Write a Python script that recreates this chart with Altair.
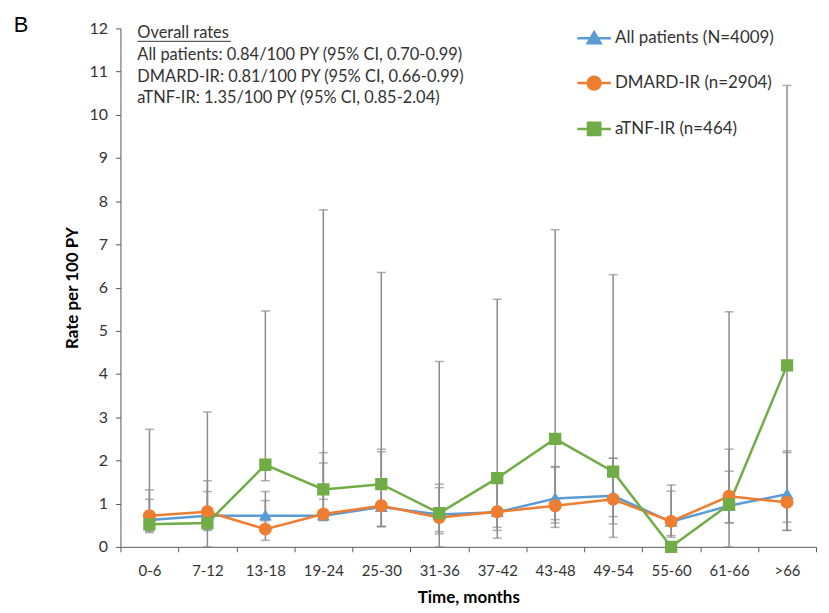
import altair as alt
import pandas as pd

categories = ["0-6", "7-12", "13-18", "19-24", "25-30", "31-36",
              "37-42", "43-48", "49-54", "55-60", "61-66", ">66"]
series_names = ["All patients (N=4009)", "DMARD-IR (n=2904)", "aTNF-IR (n=464)"]
series_colors = ["#5B9BD5", "#ED7D31", "#70AD47"]

# All patients
all_rate = [0.62, 0.72, 0.72, 0.72, 0.92, 0.75, 0.80, 1.12, 1.18, 0.58, 0.95, 1.22]
all_lo   = [0.38, 0.40, 0.60, 0.61, 0.47, 0.35, 0.45, 0.55, 0.70, 0.22, 0.56, 0.57]
all_hi   = [1.10, 1.28, 1.07, 1.94, 2.20, 1.37, 1.59, 1.86, 2.05, 1.29, 1.75, 2.18]
# DMARD-IR
dmard_rate = [0.72, 0.81, 0.41, 0.76, 0.95, 0.68, 0.81, 0.95, 1.10, 0.59, 1.17, 1.03]
dmard_lo   = [0.36, 0.38, 0.15, 0.61, 0.47, 0.30, 0.38, 0.45, 0.53, 0.26, 0.55, 0.38]
dmard_hi   = [1.32, 1.53, 1.28, 2.18, 2.26, 1.45, 1.59, 1.84, 2.05, 1.43, 2.26, 2.22]
# aTNF-IR
atnf_rate = [0.52, 0.55, 1.90, 1.33, 1.45, 0.78, 1.59, 2.50, 1.74, 0.00, 0.98, 4.20]
atnf_lo   = [0.33, 0.00, 1.53, 1.10, 0.47, 0.00, 0.20, 0.63, 0.22, 0.00, 0.00, 0.38]
atnf_hi   = [2.72, 3.12, 5.46, 7.80, 6.35, 4.29, 5.73, 7.34, 6.30, 0.00, 5.44, 10.68]

note_lines = [
    "All patients: 0.84/100 PY (95% CI, 0.70-0.99)",
    "DMARD-IR: 0.81/100 PY (95% CI, 0.66-0.99)",
    "aTNF-IR: 1.35/100 PY (95% CI, 0.85-2.04)",
]

# symbol paths: line segment + marker (line only shows in legend, where symbols are stroked)
shape_paths = [
    "M-2.6,0H2.6M0,-0.95L1,0.75L-1,0.75Z",
    "M-2.6,0H2.6M1,0A1,1,0,1,1,-1,0A1,1,0,1,1,1,0Z",
    "M-2.6,0H2.6M-0.95,-0.95H0.95V0.95H-0.95Z",
]

rows = []
for name, rates, los, his in zip(series_names,
                                 [all_rate, dmard_rate, atnf_rate],
                                 [all_lo, dmard_lo, atnf_lo],
                                 [all_hi, dmard_hi, atnf_hi]):
    for c, r, lo, hi in zip(categories, rates, los, his):
        rows.append({"period": c, "series": name, "rate": r, "lo": lo, "hi": hi})
df = pd.DataFrame(rows)

FONT = "Lato"
TXT = "#333333"

x_enc = alt.X("period:N", sort=categories,
              scale=alt.Scale(type="band", domain=categories, paddingInner=0, paddingOuter=0),
              axis=alt.Axis(title="Time, months", labelAngle=0, tickBand="extent",
                            labelPadding=12, titlePadding=11))
y_scale = alt.Scale(domain=[0, 12], nice=False, zero=True)
y_axis = alt.Axis(title="Rate per 100 PY", values=list(range(13)), grid=False,
                  labelPadding=8, titlePadding=8)

color_enc = alt.Color("series:N", scale=alt.Scale(domain=series_names, range=series_colors),
                      legend=alt.Legend(title=None))
shape_enc = alt.Shape("series:N", scale=alt.Scale(domain=series_names, range=shape_paths),
                      legend=alt.Legend(title=None))

base = alt.Chart(df)

err_rule = base.mark_rule(color="#8c8c8c", strokeWidth=1.5).encode(
    x=x_enc, y=alt.Y("lo:Q", scale=y_scale, axis=y_axis), y2="hi:Q")

err_caps = base.transform_fold(["lo", "hi"], as_=["bound", "v"]).mark_tick(
    color="#8c8c8c", thickness=1.5, size=9).encode(
    x=x_enc, y=alt.Y("v:Q", scale=y_scale, axis=y_axis))

lines = base.mark_line(strokeWidth=2.5).encode(
    x=x_enc, y=alt.Y("rate:Q", scale=y_scale, axis=y_axis), color=color_enc)

points = base.mark_point(filled=True, size=169, opacity=1).encode(
    x=x_enc, y=alt.Y("rate:Q", scale=y_scale, axis=y_axis), color=color_enc, shape=shape_enc)

panel_label = alt.Chart(pd.DataFrame({"t": ["B"]})).mark_text(
    x=-100, y=4, align="center", baseline="alphabetic", font="Liberation Sans",
    fontSize=22, color="#000000").encode(text="t:N")

title_note = alt.Chart(pd.DataFrame({"t": ["Overall rates"]})).mark_text(
    x=17, y=10, align="left", baseline="alphabetic", font=FONT, fontSize=16.5,
    color=TXT).encode(text="t:N")

underline = alt.Chart(pd.DataFrame({"t": ["u"]})).mark_rule(
    color=TXT, strokeWidth=1).encode(x=alt.value(17), x2=alt.value(111), y=alt.value(13))

notes = []
for i, line in enumerate(note_lines):
    notes.append(alt.Chart(pd.DataFrame({"t": [line]})).mark_text(
        x=17, y=32 + i * 21.7, align="left", baseline="alphabetic", font=FONT,
        fontSize=16.5, color=TXT).encode(text="t:N"))

chart = alt.layer(err_rule, err_caps, lines, points, panel_label, title_note, underline, *notes).properties(
    width=699, height=521,
    autosize=alt.AutoSizeParams(type="none"),
    padding={"left": 113, "top": 19, "right": 5, "bottom": 64},
).configure_view(stroke=None).configure_axis(
    labelFont=FONT, labelColor=TXT,
    titleFont=FONT, titleFontSize=17, titleFontWeight="bold", titleColor="#000000",
    domainColor="#595959", tickColor="#595959", domainWidth=1, tickWidth=1, tickSize=5,
).configure_axisX(labelFontSize=15).configure_axisY(labelFontSize=16).configure_legend(
    orient="none", legendX=467.5, legendY=1.5, padding=0,
    labelFont=FONT, labelFontSize=17, labelColor=TXT, labelOffset=12.5,
    symbolSize=169, symbolStrokeWidth=2.5, rowPadding=23,
)

chart.save("out.html", embed_options={"renderer": "svg", "actions": False})
